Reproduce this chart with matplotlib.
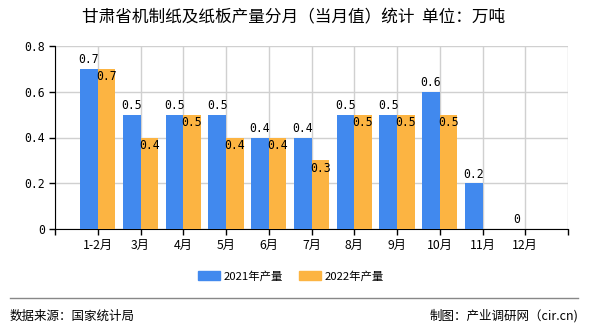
import matplotlib
matplotlib.use("Agg")
import matplotlib.pyplot as plt
import numpy as np
from matplotlib.patches import Rectangle
from matplotlib.lines import Line2D

plt.rcParams['font.family'] = ['Noto Sans CJK SC', 'DejaVu Sans']

categories = ["1-2月", "3月", "4月", "5月", "6月", "7月", "8月", "9月", "10月", "11月", "12月"]
values_2021 = [0.7, 0.5, 0.5, 0.5, 0.4, 0.4, 0.5, 0.5, 0.6, 0.2, 0]
values_2022 = [0.7, 0.4, 0.5, 0.4, 0.4, 0.3, 0.5, 0.5, 0.5]
series_names = ["2021年产量", "2022年产量"]
yticks = [0, 0.2, 0.4, 0.6, 0.8]
ytick_labels = ["0", "0.2", "0.4", "0.6", "0.8"]

title = "甘肃省机制纸及纸板产量分月（当月值）统计  单位：万吨"
source = "数据来源：国家统计局"
credit = "制图：产业调研网（cir.cn)"

c_blue = "#4189EE"
c_orange = "#FCB442"
num_font = ['DejaVu Sans Mono', 'Noto Sans CJK SC']

fig = plt.figure(figsize=(5.9, 3.3), dpi=100)
ax = fig.add_axes([55/590, 1-229/330, (568-55)/590, (229-46)/330])

x = np.arange(len(categories))
w = 0.41
ax.bar(x - w/2, values_2021, width=w, color=c_blue, zorder=3)
x2 = np.arange(len(values_2022))
ax.bar(x2 + w/2, values_2022, width=w, color=c_orange, zorder=3)

for xi, v in zip(x, values_2021):
    ax.text(xi - w/2, v + 0.012, f"{v:g}", ha='center', va='bottom', fontsize=8.3, family=num_font, zorder=4)
for xi, v in zip(x2, values_2022):
    ax.text(xi + w/2, v - 0.005, f"{v:g}", ha='center', va='top', fontsize=8.3, family=num_font, zorder=4)

ax.set_xlim(-1, 11)
ax.set_ylim(0, 0.8)
ax.set_xticks(np.arange(-1, 12))
ax.set_xticklabels([""] + categories + [""], fontsize=8.8)
ax.set_yticks(yticks)
ax.set_yticklabels(ytick_labels, fontsize=8.3, family=num_font)
ax.grid(True, color='#D0D0D0', linewidth=1, zorder=0)
ax.set_axisbelow(True)
for s in ['top', 'right']:
    ax.spines[s].set_visible(False)
ax.spines['left'].set_color('black')
ax.spines['bottom'].set_color('black')
ax.tick_params(axis='both', length=4, width=1, color='black', pad=3)

fig.text(294/590, 1-18/330, title, ha='center', va='center', fontsize=12)

handles = [Rectangle((0, 0), 1, 1, color=c_blue), Rectangle((0, 0), 1, 1, color=c_orange)]
fig.legend(handles, series_names, loc='center', bbox_to_anchor=(291/590, 1-276/330), ncol=2,
           frameon=False, fontsize=8.2, handlelength=1.93, handleheight=0.8, columnspacing=1.4,
           handletextpad=0.35, borderpad=0, borderaxespad=0)

fig.add_artist(Line2D([10/590, 578/590], [1-298/330, 1-298/330], color='#888888', linewidth=1))
fig.text(10/590, 1-316/330, source, ha='left', va='center', fontsize=9)
fig.text(578/590, 1-316/330, credit, ha='right', va='center', fontsize=9)

fig.savefig("out.png", dpi=100)
